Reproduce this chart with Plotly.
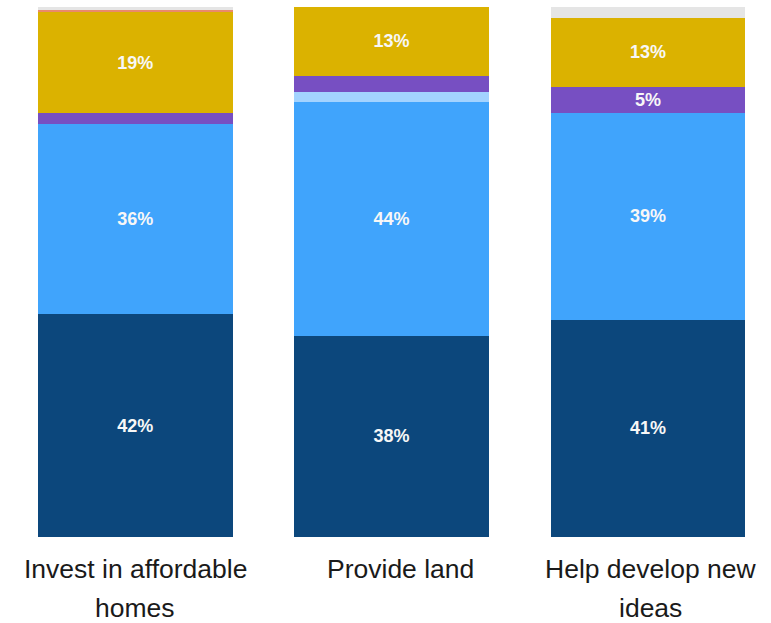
import plotly.graph_objects as go

# Categories and response shares (percent), stacked bottom to top
categories = ["Invest in affordable\nhomes", "Provide land", "Help develop new\nideas"]

strongly_support = [42, 38, 41]
tend_to_support = [36, 44, 39]
neither = [0, 2, 0]
tend_to_oppose = [2, 3, 5]
dont_know = [19, 13, 13]
strongly_oppose = [0.4, 0, 0]
no_answer = [0.6, 0, 2]

series_names = ["Strongly support", "Tend to support", "Neither", "Tend to oppose",
                "Don't know", "Strongly oppose", "No answer"]
series_values = [strongly_support, tend_to_support, neither, tend_to_oppose,
                 dont_know, strongly_oppose, no_answer]
series_colors = ["#0c477c", "#40a4fc", "#a3d3ff", "#774fc2", "#dbb200", "#e98a6c", "#e5e5e5"]

FONT = "Arial, Liberation Sans, sans-serif"
x_pos = list(range(len(categories)))

fig = go.Figure()
for name, vals, col in zip(series_names, series_values, series_colors):
    fig.add_trace(go.Bar(
        name=name,
        x=x_pos,
        y=vals,
        marker=dict(color=col, line=dict(width=0)),
        text=[f"{v:g}%" if v >= 5 else "" for v in vals],
        textposition="inside",
        insidetextanchor="middle",
        textfont=dict(family=FONT, size=18, color="#f7f7f7", weight="bold"),
        hoverinfo="skip",
    ))

# Category labels under the bars, one annotation per text line
label_nudge = [0, 9, 3]
for i, label in enumerate(categories):
    for j, line in enumerate(label.split("\n")):
        fig.add_annotation(
            x=i, xref="x", y=0, yref="paper",
            text=line, showarrow=False,
            xanchor="center", yanchor="middle",
            xshift=label_nudge[i],
            yshift=-32 - 39 * j,
            font=dict(family=FONT, size=26.5, color="#1a1a1a"),
        )

fig.update_layout(
    width=771, height=623,
    barmode="stack",
    bargap=0.24,
    showlegend=False,
    paper_bgcolor="white",
    plot_bgcolor="white",
    margin=dict(l=7, r=0, t=7, b=86),
    uniformtext=dict(minsize=18, mode="show"),
    xaxis=dict(range=[-0.5, 2.48], showticklabels=False, showgrid=False,
               zeroline=False, showline=False, ticks=""),
    yaxis=dict(range=[0, 100], visible=False, showgrid=False, zeroline=False),
)

fig.write_html("out.html")
